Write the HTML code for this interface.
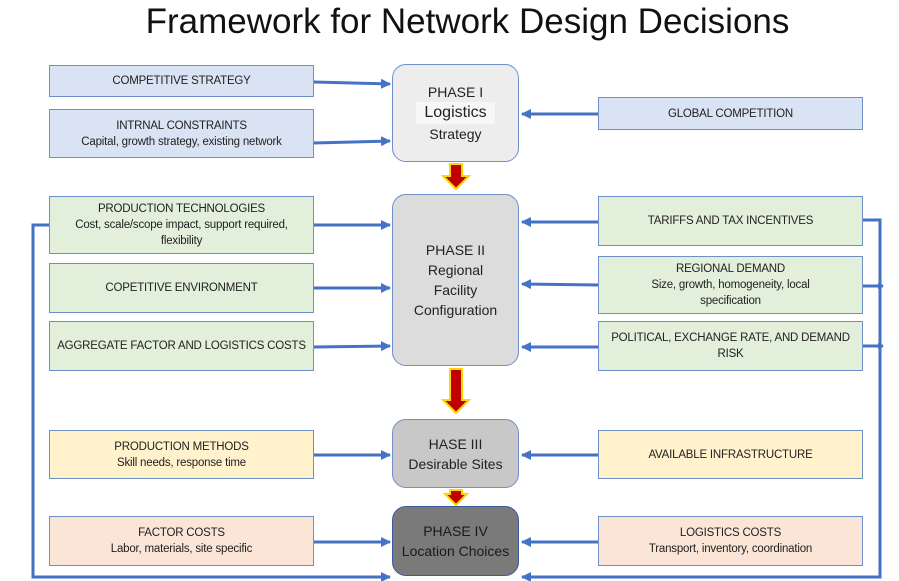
<!DOCTYPE html>
<html><head><style>
body{margin:0;width:899px;height:581px;background:#fff;position:relative;overflow:hidden;font-family:"Liberation Sans",sans-serif;}
.b{position:absolute;box-sizing:border-box;border:1.5px solid #6f8fc8;display:flex;flex-direction:column;align-items:center;justify-content:center;text-align:center;font-size:11.5px;line-height:16px;color:#222;letter-spacing:-0.2px}
.bl{background:#dae3f3}.gr{background:#e2efda}.ye{background:#fff2cc}.pk{background:#fbe5d6}
.p{position:absolute;box-sizing:border-box;border:1.5px solid #6f8fc8;border-radius:14px;display:flex;flex-direction:column;align-items:center;justify-content:center;text-align:center;font-size:14px;line-height:20px;color:#222}
h1{position:absolute;top:0;left:0;width:935px;text-align:center;margin:0;font-weight:normal;font-size:35px;line-height:44px;color:#111}
svg{position:absolute;left:0;top:0}
</style></head><body>
<h1>Framework for Network Design Decisions</h1>
<svg width="899" height="581">
<defs>
<marker id="a" markerWidth="6" markerHeight="6" refX="5" refY="3" orient="auto" markerUnits="userSpaceOnUse"><path d="M0,0 L6,3 L0,6z" fill="#4472c4"/></marker>
<marker id="a2" markerWidth="10" markerHeight="10" refX="9" refY="5" orient="auto" markerUnits="userSpaceOnUse"><path d="M0,0 L10,5 L0,10z" fill="#4472c4"/></marker>
</defs>
<g stroke="#4472c4" stroke-width="3" fill="none">
<path d="M314 82 L390 84" marker-end="url(#a2)"/>
<path d="M314 143 L390 141" marker-end="url(#a2)"/>
<path d="M598 114 L522 114" marker-end="url(#a2)"/>
<path d="M314 225 L390 225" marker-end="url(#a2)"/>
<path d="M314 288 L390 288" marker-end="url(#a2)"/>
<path d="M314 347 L390 346" marker-end="url(#a2)"/>
<path d="M598 222 L522 222" marker-end="url(#a2)"/>
<path d="M598 285 L522 284" marker-end="url(#a2)"/>
<path d="M598 347 L522 347" marker-end="url(#a2)"/>
<path d="M314 455 L390 455" marker-end="url(#a2)"/>
<path d="M598 455 L522 455" marker-end="url(#a2)"/>
<path d="M314 542 L390 542" marker-end="url(#a2)"/>
<path d="M598 542 L522 542" marker-end="url(#a2)"/>
<path d="M49 225 L33 225 L33 577 L390 577" marker-end="url(#a2)"/>
<path d="M863 220 L880 220 L880 577 L522 577" marker-end="url(#a2)"/>
<path d="M863 286 L883 286" marker-end="url(#a)"/>
<path d="M863 346 L883 346" marker-end="url(#a)"/>
</g>
<g fill="#c00000" stroke="#ffd700" stroke-width="2">
<path d="M450 164 H462 V176 H469 L456 189 L443 176 H450Z"/>
<path d="M450 369 H462 V400 H469 L456 413 L443 400 H450Z"/>
<path d="M450 490 H462 V494 H467 L456 505 L445 494 H450Z"/>
</g>
</svg>
<div class="b bl" style="left:49px;top:65px;width:265px;height:32px">COMPETITIVE STRATEGY</div>
<div class="b bl" style="left:49px;top:109px;width:265px;height:49px">INTRNAL CONSTRAINTS<br>Capital, growth strategy, existing network</div>
<div class="b bl" style="left:598px;top:97px;width:265px;height:33px">GLOBAL COMPETITION</div>
<div class="b gr" style="left:49px;top:196px;width:265px;height:58px">PRODUCTION TECHNOLOGIES<br>Cost, scale/scope impact, support required,<br>flexibility</div>
<div class="b gr" style="left:49px;top:263px;width:265px;height:50px">COPETITIVE ENVIRONMENT</div>
<div class="b gr" style="left:49px;top:321px;width:265px;height:50px">AGGREGATE FACTOR AND LOGISTICS COSTS</div>
<div class="b gr" style="left:598px;top:196px;width:265px;height:50px">TARIFFS AND TAX INCENTIVES</div>
<div class="b gr" style="left:598px;top:256px;width:265px;height:58px">REGIONAL DEMAND<br>Size, growth, homogeneity, local<br>specification</div>
<div class="b gr" style="left:598px;top:321px;width:265px;height:50px">POLITICAL, EXCHANGE RATE, AND DEMAND<br>RISK</div>
<div class="b ye" style="left:49px;top:430px;width:265px;height:49px">PRODUCTION METHODS<br>Skill needs, response time</div>
<div class="b ye" style="left:598px;top:430px;width:265px;height:49px">AVAILABLE INFRASTRUCTURE</div>
<div class="b pk" style="left:49px;top:516px;width:265px;height:50px">FACTOR COSTS<br>Labor, materials, site specific</div>
<div class="b pk" style="left:598px;top:516px;width:265px;height:50px">LOGISTICS COSTS<br>Transport, inventory, coordination</div>
<div class="p" style="left:392px;top:64px;width:127px;height:98px;background:#ededed">PHASE I<span style="font-size:16px;line-height:22px;background:#f7f7f7;padding:0 8px">Logistics</span>Strategy</div>
<div class="p" style="left:392px;top:194px;width:127px;height:172px;background:#dcdcdc">PHASE II<br>Regional<br>Facility<br>Configuration</div>
<div class="p" style="left:392px;top:419px;width:127px;height:69px;background:#c8c8c8">HASE III<br>Desirable Sites</div>
<div class="p" style="left:392px;top:506px;width:127px;height:70px;background:#7a7a7a;border-color:#3a5a9a;color:#1a1a1a">PHASE IV<br>Location Choices</div>
</body></html>
